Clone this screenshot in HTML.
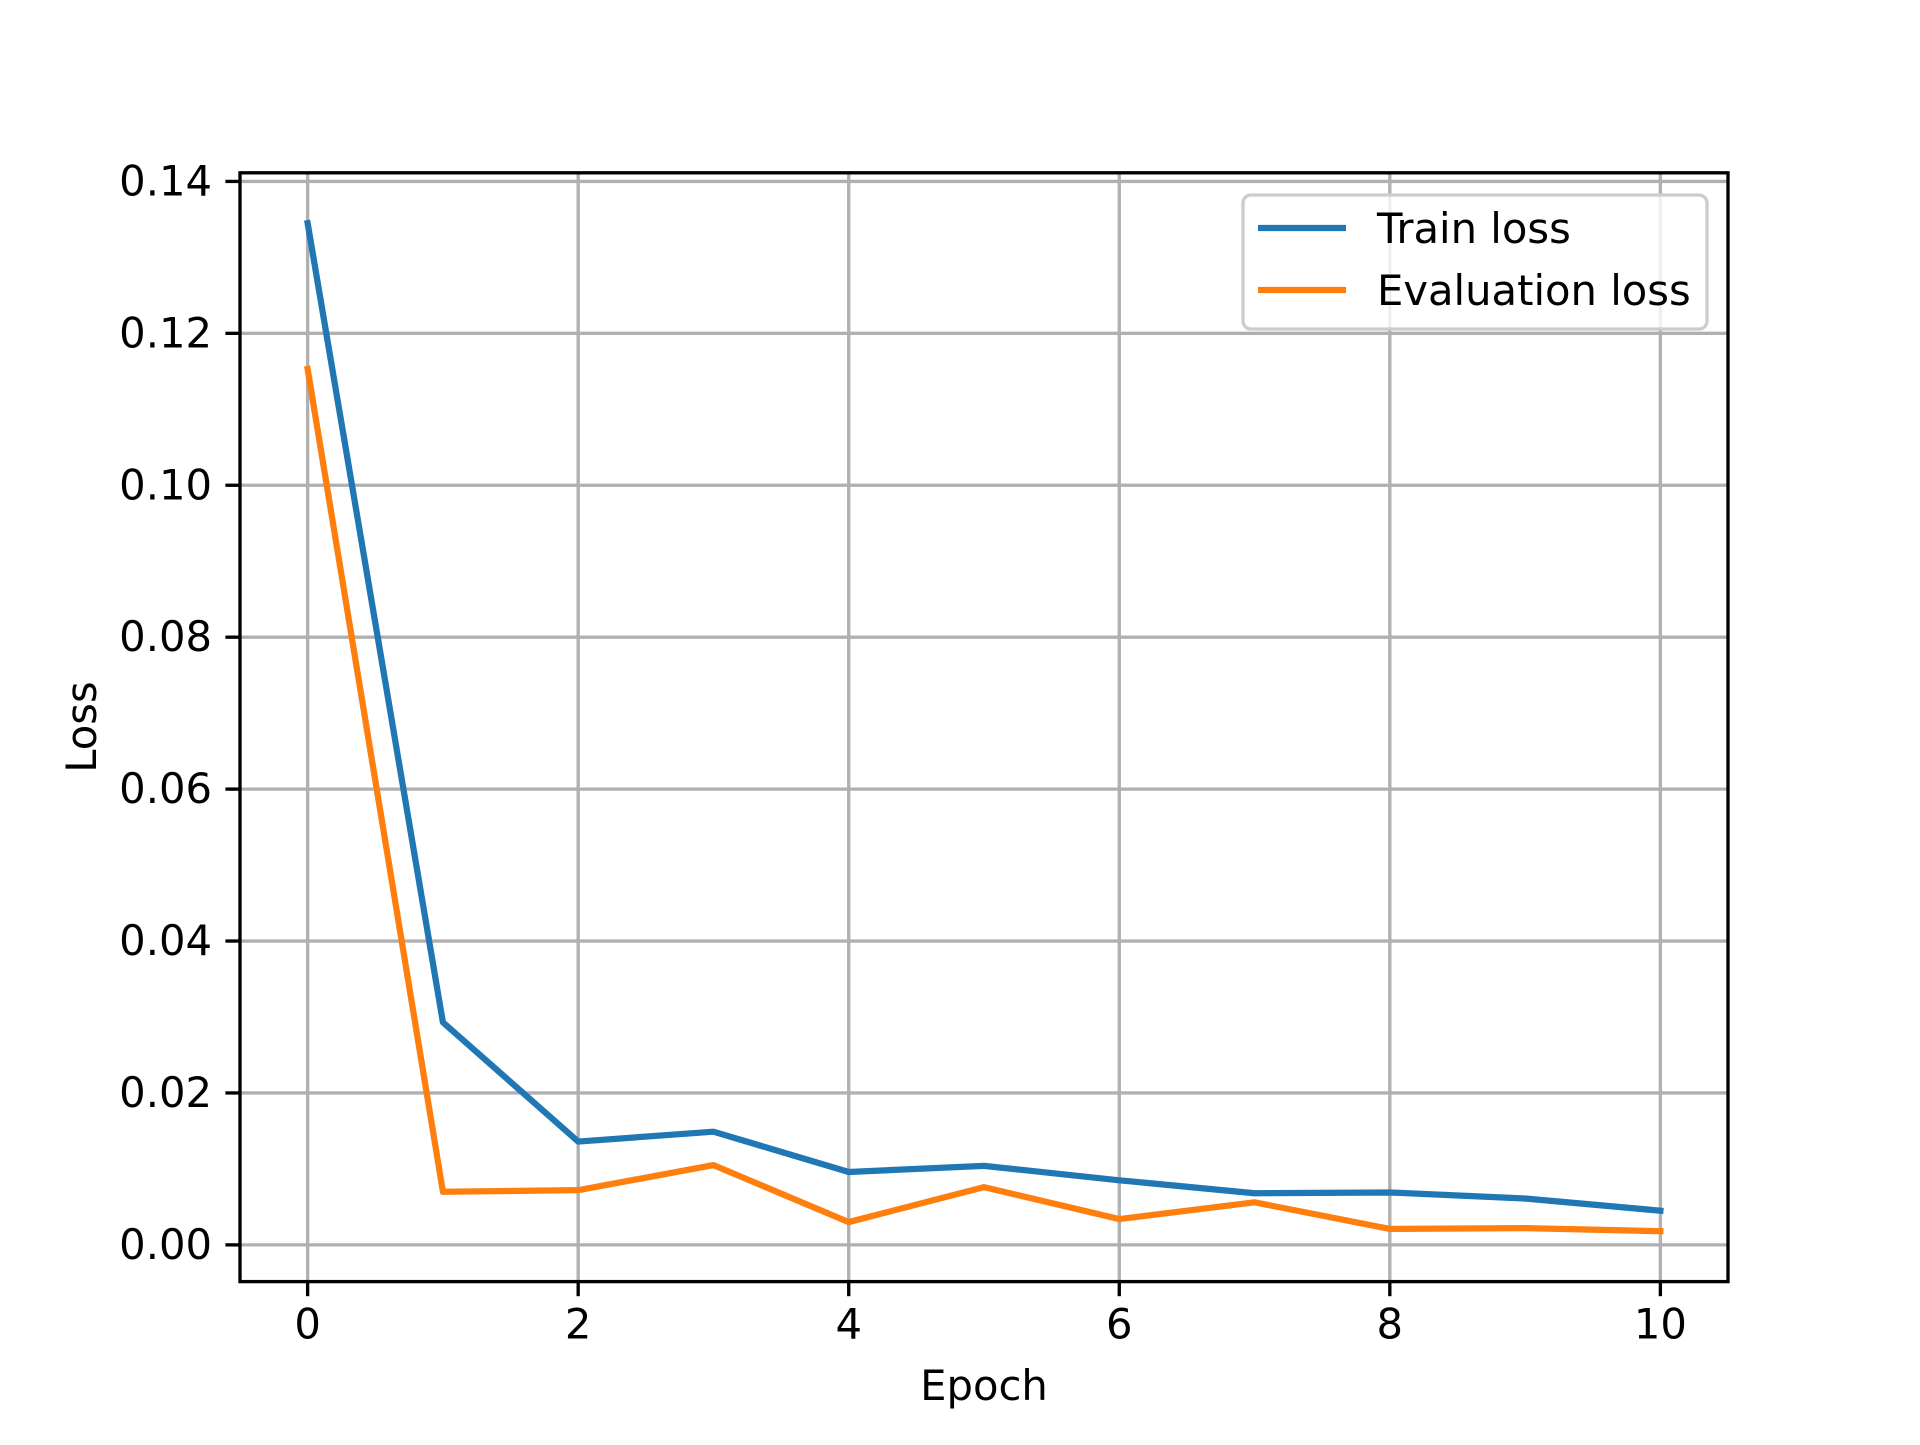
<!DOCTYPE html>
<html><head><meta charset="utf-8"><style>
html,body{margin:0;padding:0;background:#fff;}
svg text{font-family:"DejaVu Sans","Liberation Sans",sans-serif;fill:#000;}
</style></head><body>
<svg id="chart" width="1920" height="1440" xmlns="http://www.w3.org/2000/svg">
<rect width="1920" height="1440" fill="#fff"/>
<g id="grid"></g>
<g id="series"></g>
<rect x="240" y="172.8" width="1488" height="1108.8" fill="none" stroke="#000" stroke-width="3.33"/>
<g id="ticks"></g>
<text x="984" y="1400" font-size="41.7" text-anchor="middle">Epoch</text>
<text transform="translate(96,727) rotate(-90)" font-size="41.7" text-anchor="middle">Loss</text>
<g>
<rect x="1243" y="195" width="464" height="134" rx="8" fill="#fff" fill-opacity="0.8" stroke="#ccc" stroke-width="3.33"/>
<line x1="1258" y1="228" x2="1346" y2="228" stroke="#1f77b4" stroke-width="6.25"/>
<text x="1377" y="243" font-size="41.7">Train loss</text>
<line x1="1258" y1="290" x2="1346" y2="290" stroke="#ff7f0e" stroke-width="6.25"/>
<text x="1377" y="305" font-size="41.7">Evaluation loss</text>
</g>
</svg>
<script>
const epochs=[0,1,2,3,4,5,6,7,8,9,10];
const trainLoss=[0.1345,0.0293,0.0136,0.0149,0.0096,0.0104,0.0085,0.0068,0.0069,0.0061,0.0045];
const evalLoss=[0.1153,0.0070,0.0072,0.0105,0.0030,0.0076,0.0034,0.0056,0.0021,0.0022,0.0018];
const xTicks=[0,2,4,6,8,10];
const yTicks=[0,0.02,0.04,0.06,0.08,0.10,0.12,0.14];
const L=240,R=1728,T=172.8,B=1281.6;
const allV=trainLoss.concat(evalLoss);
const vmin=Math.min(...allV),vmax=Math.max(...allV),pad=(vmax-vmin)*0.05;
const y0=vmin-pad,y1=vmax+pad;
const xmin=epochs[0]-(epochs[epochs.length-1]-epochs[0])*0.05,xmax=epochs[epochs.length-1]+(epochs[epochs.length-1]-epochs[0])*0.05;
const sx=v=>L+(v-xmin)/(xmax-xmin)*(R-L);
const sy=v=>B-(v-y0)/(y1-y0)*(B-T);
const NS="http://www.w3.org/2000/svg";
function mk(tag,attrs,parent){const e=document.createElementNS(NS,tag);for(const k in attrs)e.setAttribute(k,attrs[k]);parent.appendChild(e);return e;}
const grid=document.getElementById('grid'),ticks=document.getElementById('ticks'),series=document.getElementById('series');
xTicks.forEach(t=>{
  const x=sx(t);
  const g=mk('line',{x1:x,x2:x,y1:T,y2:B,stroke:'#b0b0b0','stroke-width':3.33},grid);
  
  
  const tk=mk('line',{x1:x,x2:x,y1:B,y2:B+14.6,stroke:'#000','stroke-width':3.33},ticks);
  
  
  const tx=mk('text',{x:x,y:B+57,'font-size':41.7,'text-anchor':'middle'},ticks);
  tx.textContent=String(t);
  
  
});
yTicks.forEach(t=>{
  const y=sy(t);
  const g=mk('line',{x1:L,x2:R,y1:y,y2:y,stroke:'#b0b0b0','stroke-width':3.33},grid);
  
  
  const tk=mk('line',{x1:L-14.6,x2:L,y1:y,y2:y,stroke:'#000','stroke-width':3.33},ticks);
  
  
  const tx=mk('text',{x:L-28,y:y+14,'font-size':41.7,'text-anchor':'end'},ticks);
  tx.textContent=t.toFixed(2);
  
  
});
function line(vals,color,name){
  const pts=vals.map((v,i)=>sx(epochs[i])+','+sy(v)).join(' ');
  const p=mk('polyline',{points:pts,fill:'none',stroke:color,'stroke-width':6.25,'stroke-linejoin':'round','stroke-linecap':'square'},series);
  
  
}
line(trainLoss,'#1f77b4','train-loss-line');
line(evalLoss,'#ff7f0e','evaluation-loss-line');
</script>
</body></html>
